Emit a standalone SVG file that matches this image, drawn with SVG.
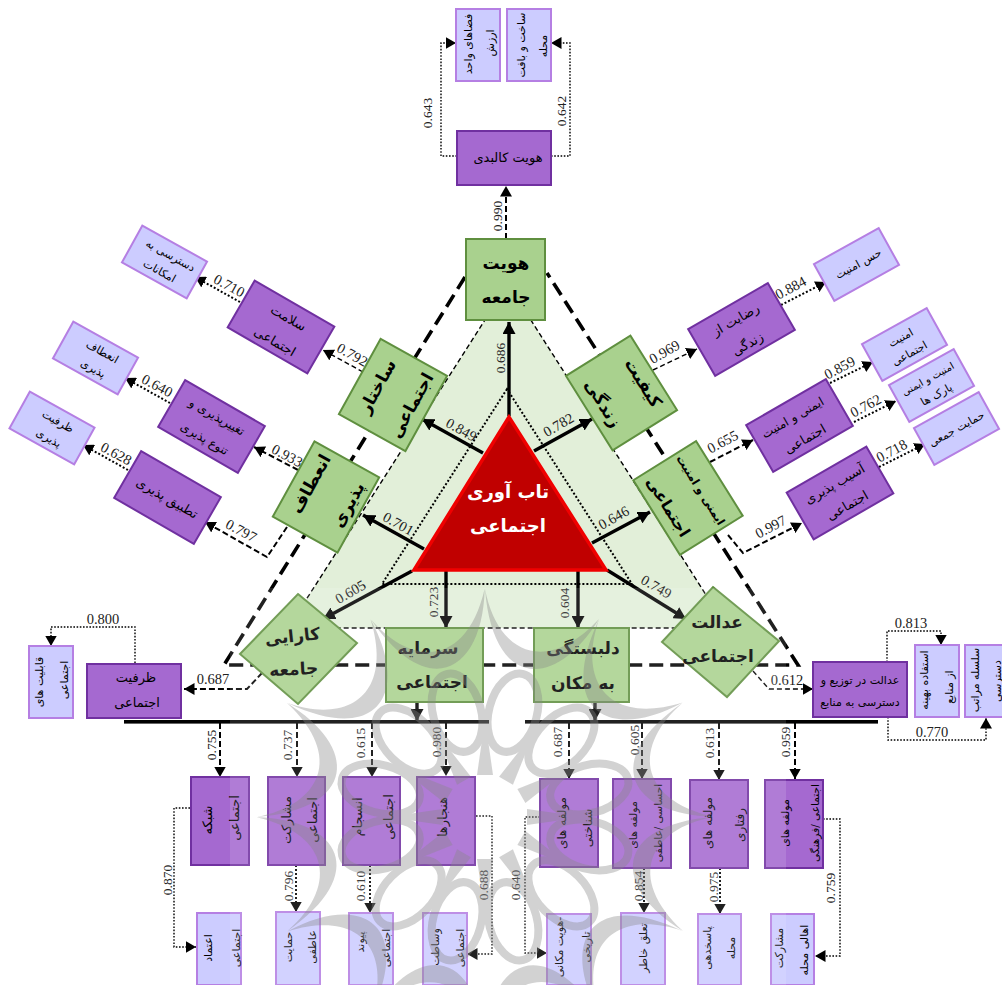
<svg xmlns="http://www.w3.org/2000/svg" width="1002" height="985" viewBox="0 0 1002 985">
<style>
text{font-family:"DejaVu Sans","Noto Sans",sans-serif;fill:#000;text-anchor:middle}
.g rect,.g polygon{fill:#a9d18e;stroke:#5f8f3f;stroke-width:2}
.g text{font-size:17px;font-weight:bold}
.p rect{fill:#a569d0;stroke:#7030a0;stroke-width:2}
.p text{font-size:13px}
.l rect{fill:#ccccff;stroke:#b57fe3;stroke-width:2}
.l text{font-size:11px}
.n{font-family:"Liberation Serif",serif;font-size:14.5px;fill:#222}
.n[transform*="-90"]{font-size:13.5px}
.c line,.c polyline{fill:none;stroke:#000}
.s{stroke-width:3.4;marker-end:url(#a1)}
.d{stroke-width:2;stroke-dasharray:6 3;marker-end:url(#a2)}
.t{stroke-width:2;stroke-dasharray:2 2;marker-end:url(#a2)}
.t1{stroke-width:1.4;stroke-dasharray:1.6 1.6;marker-end:url(#a2)}
.d1{stroke-width:1.4;stroke-dasharray:5 3;marker-end:url(#a2)}
</style>
<defs>
<marker id="a1" markerUnits="userSpaceOnUse" markerWidth="13" markerHeight="13" refX="12" refY="6.5" orient="auto"><path d="M0,0L12,6.5L0,13z" fill="#000"/></marker>
<marker id="a2" markerUnits="userSpaceOnUse" markerWidth="11" markerHeight="12" refX="10.5" refY="6" orient="auto"><path d="M0,0L10.5,6L0,12z" fill="#000"/></marker>
<g id="wm">
<path d="M0,-228C12,-165 60,-140 114,-198C70,-126 8,-128 0,-228z"/>
<ellipse cx="0" cy="-108" rx="24" ry="40" fill="none" stroke="#888" stroke-width="8" transform="rotate(15)"/>
<path d="M-8,-42L0,-98L8,-42z"/>
</g>
</defs>

<g id="triangles">
<polygon points="508,284 288,628 727,628" fill="#e2efd9" stroke="#000" stroke-width="1.4" stroke-dasharray="5 3"/>
<polygon points="507,389 382,584 632,584" fill="none" stroke="#000" stroke-width="2" stroke-dasharray="2 2"/>
<polyline points="465,277 224,665 798,665 547,273" fill="none" stroke="#000" stroke-width="3.6" stroke-dasharray="14 7"/>
</g>

<g id="connectors" class="c">
<line class="s" x1="509" y1="416" x2="509" y2="322"/>
<line class="s" x1="483" y1="453" x2="422" y2="419"/>
<line class="s" x1="534" y1="451" x2="592" y2="419"/>
<line class="s" x1="424" y1="549" x2="363" y2="515"/>
<line class="s" x1="592" y1="543" x2="650" y2="512"/>
<line class="s" x1="412" y1="571" x2="323" y2="619"/>
<line class="s" x1="446" y1="571" x2="446" y2="628"/>
<line class="s" x1="578" y1="571" x2="578" y2="628"/>
<line class="s" x1="607" y1="570" x2="686" y2="619"/>
<line class="s" x1="417" y1="702" x2="417" y2="721"/>
<line class="s" x1="595" y1="702" x2="595" y2="721"/>

<line class="d" x1="506" y1="239" x2="506" y2="186"/>
<line class="d1" x1="363" y1="372" x2="323" y2="350"/>
<line class="d1" x1="653" y1="370" x2="697" y2="349"/>
<line class="d" x1="298" y1="470" x2="254" y2="447"/>
<polyline class="d" points="287,527 267,557 205,522"/>
<line class="d" x1="710" y1="462" x2="753" y2="440"/>
<polyline class="d" points="728,535 743,553 802,523"/>
<polyline class="d" points="262,673 247,689 184,689"/>
<polyline class="d1" points="753,671 769,689 813,689"/>

<polyline class="t1" points="457,156 441,156 441,43 456,43"/>
<polyline class="t1" points="551,156 570,156 570,43 551,43"/>
<line class="t" x1="240" y1="302" x2="195" y2="277"/>
<line class="t" x1="170" y1="403" x2="125" y2="378"/>
<line class="t" x1="128" y1="470" x2="83" y2="445"/>
<line class="t" x1="781" y1="305" x2="826" y2="282"/>
<line class="t" x1="830" y1="383" x2="873" y2="362"/>
<line class="t" x1="854" y1="422" x2="896" y2="401"/>
<line class="t" x1="879" y1="467" x2="925" y2="444"/>
<polyline class="t1" points="135,663 135,627 51,627 51,646"/>
<polyline class="t1" points="887,662 887,631 941,631 941,645"/>
<polyline class="t1" points="888,717 888,740 986,740 986,718"/>

<line class="d" x1="220" y1="723" x2="220" y2="777"/>
<line class="d" x1="297" y1="723" x2="297" y2="777"/>
<line class="d" x1="372" y1="723" x2="372" y2="777"/>
<line class="d" x1="446" y1="723" x2="446" y2="776"/>
<line class="d" x1="569" y1="723" x2="569" y2="779"/>
<line class="d" x1="642" y1="723" x2="642" y2="779"/>
<line class="d" x1="719" y1="723" x2="719" y2="780"/>
<line class="d" x1="795" y1="723" x2="795" y2="779"/>

<polyline class="t1" points="190,808 174,808 174,947 196,947"/>
<line class="t" x1="296" y1="865" x2="296" y2="912"/>
<line class="t" x1="370" y1="865" x2="370" y2="913"/>
<polyline class="t1" points="476,816 492,816 492,954 467,954"/>
<polyline class="t1" points="540,817 525,817 525,953 547,953"/>
<line class="t" x1="644" y1="868" x2="644" y2="913"/>
<line class="t" x1="720" y1="868" x2="720" y2="914"/>
<polyline class="t1" points="823,819 840,819 840,956 815,956"/>
</g>

<g id="bars">
<rect x="124" y="720" width="365" height="3.6" fill="#000"/>
<rect x="525" y="720" width="353" height="3.6" fill="#000"/>
</g>

<g id="n-core"><polygon points="509,417 414,570 606,570" fill="#c00000" stroke="#f00000" stroke-width="3.5"/><text x="508" y="498" font-size="18" font-weight="bold" style="fill:#fff">تاب آوری</text><text x="508" y="532" font-size="18" font-weight="bold" style="fill:#fff">اجتماعی</text></g>

<g id="n-hoviat" class="g"><rect x="466" y="239" width="79" height="81"/><text x="506" y="269">هویت</text><text x="506" y="303">جامعه</text></g>
<g id="n-sakhtar" class="g" transform="translate(393,395) rotate(-61)"><rect x="-43" y="-38" width="86" height="76"/><text x="0" y="-12">ساختار</text><text x="0" y="27">اجتماعی</text></g>
<g id="n-enetaf" class="g" transform="translate(326,497) rotate(-61)"><rect x="-43" y="-37" width="86" height="74"/><text x="4" y="-14">انعطاف</text><text x="4" y="29">پذیری</text></g>
<g id="n-keyfiat" class="g" transform="translate(621.5,393) rotate(58)"><rect x="-44" y="-38" width="88" height="76"/><text x="3" y="-18">کیفیت</text><text x="-1" y="27">زندگی</text></g>
<g id="n-imeni" class="g" transform="translate(688,498) rotate(58)"><rect x="-44" y="-37" width="88" height="74"/><text x="0" y="-11" style="font-size:11.5px">ایمنی و امنیت</text><text x="-3" y="27" style="font-size:16px">اجتماعی</text></g>
<g id="n-karaei" class="g"><polygon points="298,594 357,643 298,704 240,654"/><text x="293" y="642" transform="rotate(-6 293 642)">کارایی</text><text x="294" y="675" transform="rotate(-3 294 675)">جامعه</text></g>
<g id="n-edalat" class="g"><polygon points="713,587 779,641 727,697 662,642"/><text x="717" y="628">عدالت</text><text x="718" y="662">اجتماعی</text></g>
<g id="n-sarmaye" class="g"><rect x="386" y="628" width="97" height="74"/><text x="428" y="654">سرمایه</text><text x="432" y="688">اجتماعی</text></g>
<g id="n-delbastegi" class="g"><rect x="534" y="628" width="95" height="74"/><text x="583" y="654">دلبستگی</text><text x="583" y="689">به مکان</text></g>

<g id="n-kalbadi" class="p"><rect x="457" y="131" width="94" height="54"/><text x="508" y="162">هویت کالبدی</text></g>
<g id="n-fazaha" class="l"><rect x="456" y="9" width="44" height="72"/><text transform="translate(472,44) rotate(-90)">فضاهای واحد</text><text transform="translate(494,43) rotate(-90)">ارزش</text></g>
<g id="n-sakht" class="l"><rect x="507" y="9" width="44" height="72"/><text transform="translate(525,45) rotate(-90)">ساخت و بافت</text><text transform="translate(547,46) rotate(-90)">محله</text></g>

<g id="n-salamat" class="p" transform="translate(281,327) rotate(30)"><rect x="-46" y="-27" width="92" height="54"/><text x="2" y="-7">سلامت</text><text x="2" y="20">اجتماعی</text></g>
<g id="n-taghir" class="p" transform="translate(211.5,426.5) rotate(30)"><rect x="-46" y="-27" width="92" height="54"/><text x="0" y="-7" style="font-size:12px">تغییرپذیری و</text><text x="0" y="18" style="font-size:12px">تنوع پذیری</text></g>
<g id="n-tatbigh" class="p" transform="translate(167.5,497.5) rotate(30)"><rect x="-46" y="-27" width="92" height="54"/><text x="0" y="5">تطبیق پذیری</text></g>
<g id="n-dastresi" class="l" transform="translate(164.5,262) rotate(29)"><rect x="-37" y="-21" width="74" height="42"/><text x="2" y="-5">دسترسی به</text><text x="0" y="14">امکانات</text></g>
<g id="n-enetaf2" class="l" transform="translate(95.5,358) rotate(29)"><rect x="-37" y="-21" width="74" height="42"/><text x="3" y="-5">انعطاف</text><text x="3" y="14">پذیری</text></g>
<g id="n-zarfiat2" class="l" transform="translate(52,428) rotate(29)"><rect x="-37" y="-21" width="74" height="42"/><text x="2" y="-5">ظرفیت</text><text x="2" y="14">پذیری</text></g>

<g id="n-rezayat" class="p" transform="translate(741.5,329.5) rotate(-30)"><rect x="-46" y="-27" width="92" height="54"/><text x="0" y="-7">رضایت از</text><text x="-2" y="20">زندگی</text></g>
<g id="n-imeni2" class="p" transform="translate(799.5,425.5) rotate(-30)"><rect x="-46" y="-27" width="92" height="54"/><text x="-2" y="-6" style="font-size:12px">ایمنی و امنیت</text><text x="-2" y="19">اجتماعی</text></g>
<g id="n-asib" class="p" transform="translate(840,493) rotate(-30)"><rect x="-46" y="-27" width="92" height="54"/><text x="0" y="-6">آسیب پذیری</text><text x="0" y="19">اجتماعی</text></g>
<g id="n-hes" class="l" transform="translate(856.5,264.5) rotate(-29)"><rect x="-37" y="-21" width="74" height="42"/><text x="2" y="4">حس امنیت</text></g>
<g id="n-amn" class="l" transform="translate(904.5,344.5) rotate(-29)"><rect x="-37" y="-21" width="74" height="42"/><text x="0" y="-4">امنیت</text><text x="0" y="14">اجتماعی</text></g>
<g id="n-park" class="l" transform="translate(931.5,385.5) rotate(-29)"><rect x="-37" y="-21" width="74" height="42"/><text x="0" y="-4" style="font-size:10px">امنیت و ایمنی</text><text x="0" y="14">پارک ها</text></g>
<g id="n-hemayat" class="l" transform="translate(956.5,428.5) rotate(-29)"><rect x="-37" y="-21" width="74" height="42"/><text x="0" y="4">حمایت جمعی</text></g>

<g id="n-zarfiat" class="p"><rect x="87" y="664" width="94" height="54"/><text x="136" y="682">ظرفیت</text><text x="137" y="707">اجتماعی</text></g>
<g id="n-ghabeliat" class="l"><rect x="29" y="646" width="44" height="72"/><text transform="translate(43,682) rotate(-90)">قابلیت های</text><text transform="translate(68,680) rotate(-90)">اجتماعی</text></g>
<g id="n-edalat2" class="p"><rect x="813" y="662" width="94" height="55"/><text x="860" y="684" style="font-size:11px">عدالت در توزیع و</text><text x="860" y="706" style="font-size:11px">دسترسی به منابع</text></g>
<g id="n-estefade" class="l"><rect x="915" y="645" width="44" height="72"/><text transform="translate(928,680) rotate(-90)">استفاده بهینه</text><text transform="translate(953,687) rotate(-90)">از منابع</text></g>
<g id="n-selsele" class="l"><rect x="965" y="645" width="44" height="72"/><text transform="translate(979,680) rotate(-90)">سلسله مراتب</text><text transform="translate(1001,681) rotate(-90)">دسترسی</text></g>

<g id="n-shabake" class="p"><rect x="191" y="777" width="58" height="88"/><text transform="translate(212,820) rotate(-90)">شبکه</text><text transform="translate(239,818) rotate(-90)">اجتماعی</text></g>
<g id="n-mosharekat" class="p"><rect x="268" y="777" width="57" height="88"/><text transform="translate(291,820) rotate(-90)">مشارکت</text><text transform="translate(317,820) rotate(-90)">اجتماعی</text></g>
<g id="n-ensejam" class="p"><rect x="343" y="777" width="57" height="88"/><text transform="translate(362,817) rotate(-90)">انسجام</text><text transform="translate(393,817) rotate(-90)">اجتماعی</text></g>
<g id="n-hanjar" class="p"><rect x="417" y="777" width="58" height="88"/><text transform="translate(447,817) rotate(-90)">هنجارها</text></g>
<g id="n-etemad" class="l"><rect x="197" y="913" width="44" height="72"/><text transform="translate(212,948) rotate(-90)">اعتماد</text><text transform="translate(240,948) rotate(-90)">اجتماعی</text></g>
<g id="n-hemayat2" class="l"><rect x="276" y="912" width="44" height="73"/><text transform="translate(292,947) rotate(-90)">حمایت</text><text transform="translate(316,947) rotate(-90)">عاطفی</text></g>
<g id="n-peyvand" class="l"><rect x="349" y="913" width="44" height="72"/><text transform="translate(364,942) rotate(-90)">پیوند</text><text transform="translate(390,948) rotate(-90)">اجتماعی</text></g>
<g id="n-vesatat" class="l"><rect x="423" y="913" width="44" height="72"/><text transform="translate(439,947) rotate(-90)">وساطت</text><text transform="translate(464,948) rotate(-90)">اجتماعی</text></g>

<g id="n-shenakhti" class="p"><rect x="540" y="779" width="58" height="88"/><text transform="translate(566,823) rotate(-90)" style="font-size:12px">مولفه های</text><text transform="translate(592,828) rotate(-90)" style="font-size:12px">شناختی</text></g>
<g id="n-ehsasi" class="p"><rect x="613" y="779" width="58" height="89"/><text transform="translate(637,825) rotate(-90)" style="font-size:11px">مولفه های</text><text transform="translate(662,823) rotate(-90)" style="font-size:10.5px">احساسی /عاطفی</text></g>
<g id="n-raftari" class="p"><rect x="690" y="780" width="58" height="88"/><text transform="translate(712,823) rotate(-90)" style="font-size:12px">مولفه های</text><text transform="translate(744,825) rotate(-90)" style="font-size:12px">رفتاری</text></g>
<g id="n-farhangi" class="p"><rect x="765" y="780" width="58" height="88"/><text transform="translate(789,823) rotate(-90)" style="font-size:11px">مولفه های</text><text transform="translate(819,823) rotate(-90)" style="font-size:10.5px">اجتماعی /فرهنگی</text></g>
<g id="n-makani" class="l"><rect x="547" y="914" width="44" height="71"/><text transform="translate(563,947) rotate(-90)">هویت مکانی-</text><text transform="translate(590,947) rotate(-90)">تاریخی</text></g>
<g id="n-taalogh" class="l"><rect x="621" y="913" width="44" height="72"/><text transform="translate(647,948) rotate(-90)">تعلق خاطر</text></g>
<g id="n-pasokh" class="l"><rect x="698" y="914" width="43" height="71"/><text transform="translate(711,948) rotate(-90)">پاسخدهی</text><text transform="translate(735,948) rotate(-90)">محله</text></g>
<g id="n-ahali" class="l"><rect x="771" y="914" width="43" height="71"/><text transform="translate(783,948) rotate(-90)">مشارکت</text><text transform="translate(808,950) rotate(-90)">اهالی محله</text></g>

<g id="labels">
<text class="n" transform="translate(432,113) rotate(-90)">0.643</text>
<text class="n" transform="translate(566,111) rotate(-90)">0.642</text>
<text class="n" transform="translate(502,216) rotate(-90)">0.990</text>
<text class="n" transform="translate(505,358) rotate(-90)">0.686</text>
<text class="n" transform="translate(459,434) rotate(29)">0.849</text>
<text class="n" transform="translate(561,429) rotate(-30)">0.782</text>
<text class="n" transform="translate(396,528) rotate(29)">0.701</text>
<text class="n" transform="translate(616,522) rotate(-29)">0.646</text>
<text class="n" transform="translate(353,596) rotate(-30)">0.605</text>
<text class="n" transform="translate(438,602) rotate(-90)">0.723</text>
<text class="n" transform="translate(569,603) rotate(-90)">0.604</text>
<text class="n" transform="translate(654,591) rotate(30)">0.749</text>
<text class="n" transform="translate(350,359) rotate(29)">0.792</text>
<text class="n" transform="translate(667,356) rotate(-30)">0.969</text>
<text class="n" transform="translate(227,290) rotate(28)">0.710</text>
<text class="n" transform="translate(155,390) rotate(28)">0.640</text>
<text class="n" transform="translate(114,458) rotate(28)">0.628</text>
<text class="n" transform="translate(285,460) rotate(28)">0.933</text>
<text class="n" transform="translate(239,535) rotate(28)">0.797</text>
<text class="n" transform="translate(793,292) rotate(-28)">0.884</text>
<text class="n" transform="translate(842,372) rotate(-28)">0.859</text>
<text class="n" transform="translate(868,410) rotate(-28)">0.762</text>
<text class="n" transform="translate(894,455) rotate(-28)">0.718</text>
<text class="n" transform="translate(725,446) rotate(-28)">0.655</text>
<text class="n" transform="translate(773,531) rotate(-28)">0.997</text>
<text class="n" x="213" y="684">0.687</text>
<text class="n" x="103" y="624">0.800</text>
<text class="n" x="911" y="628">0.813</text>
<text class="n" x="787" y="685">0.612</text>
<text class="n" x="932" y="737">0.770</text>
<text class="n" transform="translate(216,745) rotate(-90)">0.755</text>
<text class="n" transform="translate(292,745) rotate(-90)">0.737</text>
<text class="n" transform="translate(365,743) rotate(-90)">0.615</text>
<text class="n" transform="translate(441,742) rotate(-90)">0.980</text>
<text class="n" transform="translate(562,742) rotate(-90)">0.687</text>
<text class="n" transform="translate(639,740) rotate(-90)">0.605</text>
<text class="n" transform="translate(714,743) rotate(-90)">0.613</text>
<text class="n" transform="translate(790,742) rotate(-90)">0.959</text>
<text class="n" transform="translate(172,880) rotate(-90)">0.870</text>
<text class="n" transform="translate(293,886) rotate(-90)">0.796</text>
<text class="n" transform="translate(365,886) rotate(-90)">0.610</text>
<text class="n" transform="translate(488,885) rotate(-90)">0.688</text>
<text class="n" transform="translate(520,885) rotate(-90)">0.640</text>
<text class="n" transform="translate(643,886) rotate(-90)">0.854</text>
<text class="n" transform="translate(718,887) rotate(-90)">0.975</text>
<text class="n" transform="translate(835,888) rotate(-90)">0.759</text>
</g>

<g id="watermark">
<rect x="230" y="588" width="556" height="397" fill="#fff" opacity=".13"/>
<g transform="translate(485,817)" fill="#888" opacity=".38">
<use href="#wm"/>
<use href="#wm" transform="rotate(30)"/>
<use href="#wm" transform="rotate(60)"/>
<use href="#wm" transform="rotate(90)"/>
<use href="#wm" transform="rotate(120)"/>
<use href="#wm" transform="rotate(150)"/>
<use href="#wm" transform="rotate(180)"/>
<use href="#wm" transform="rotate(210)"/>
<use href="#wm" transform="rotate(240)"/>
<use href="#wm" transform="rotate(270)"/>
<use href="#wm" transform="rotate(300)"/>
<use href="#wm" transform="rotate(330)"/>
</g>
</g>
</svg>
